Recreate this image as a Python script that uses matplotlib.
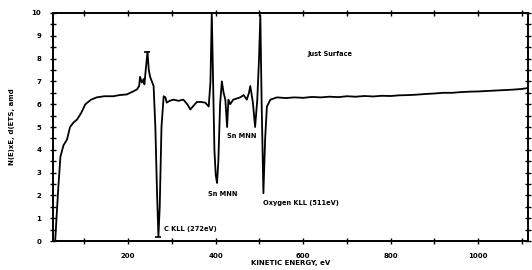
import numpy as np
import matplotlib.pyplot as plt
from matplotlib.ticker import MultipleLocator

# Spektr Auger: kineticheskaya energiya (eV) i intensivnost' (otn. ed.)
energy = [33, 36, 40, 45, 52, 60, 67, 75, 83, 92, 102, 115, 128, 145, 166, 180,
          197, 210, 220, 225, 227, 231, 235, 237, 240, 244, 247, 250, 254, 258,
          262, 266, 269, 272, 276, 281, 285, 288, 295, 303, 315, 326, 335, 342,
          350, 357, 366, 376, 384, 388, 391, 394, 397, 400, 403, 406, 410, 414,
          418, 422, 426, 429, 433, 440, 448, 456, 464, 471, 476, 479, 485, 490,
          495, 499, 502, 505, 509, 513, 517, 525, 540, 560, 580, 600, 620, 640,
          660, 680, 700, 720, 740, 760, 780, 800, 820, 840, 860, 880, 900, 920,
          940, 960, 980, 1000, 1020, 1040, 1060, 1080, 1100, 1110]
intensity = [0.0, 1.0, 2.3, 3.7, 4.2, 4.45, 5.0, 5.2, 5.33, 5.6, 6.0, 6.2, 6.3,
             6.35, 6.35, 6.4, 6.43, 6.55, 6.65, 6.8, 7.2, 6.95, 7.1, 6.87, 7.5,
             8.3, 7.5, 7.2, 7.0, 6.8, 5.0, 2.0, 0.2, 1.5, 5.0, 6.35, 6.3, 6.07,
             6.15, 6.2, 6.15, 6.2, 6.0, 5.77, 5.95, 6.1, 6.1, 6.07, 5.9, 7.0,
             10.0, 7.0, 4.0, 2.9, 2.55, 3.5, 6.0, 7.0, 6.5, 6.2, 5.0, 6.2, 6.0,
             6.2, 6.25, 6.3, 6.4, 6.2, 6.5, 6.8, 6.07, 5.0, 6.2, 8.0, 9.9, 6.0,
             2.1, 4.5, 5.9, 6.2, 6.3, 6.27, 6.3, 6.28, 6.32, 6.3, 6.33, 6.31,
             6.35, 6.33, 6.36, 6.34, 6.37, 6.36, 6.39, 6.4, 6.42, 6.45, 6.47,
             6.5, 6.5, 6.53, 6.55, 6.56, 6.58, 6.6, 6.62, 6.64, 6.67, 6.7]

labels = ["Just Surface", "C KLL (272eV)", "Sn MNN", "Sn MNN", "Oxygen KLL (511eV)"]
label_x = [610, 282, 382, 426, 508]
label_y = [8.2, 0.55, 2.05, 4.6, 1.65]

fig = plt.figure(figsize=(5.32, 2.70), dpi=100)
ax = fig.add_axes([0.0996, 0.107, 0.893, 0.845])

ax.plot(energy, intensity, color="black", linewidth=1.3)
# маленькие засечки на пике и провале углерода
ipk = intensity.index(8.3)
idp = intensity.index(0.2)
ax.plot([energy[ipk], energy[idp]], [intensity[ipk], intensity[idp]],
        linestyle="none", marker="_", markersize=5, color="black", mew=1.2)

for t, x, y in zip(labels, label_x, label_y):
    ax.text(x, y, t, fontsize=4.8, fontweight="bold", ha="left", va="center")

ax.set_xlim(28, 1114)
ax.set_ylim(0, 10)
ax.xaxis.set_major_locator(MultipleLocator(200))
ax.xaxis.set_minor_locator(MultipleLocator(100))
ax.yaxis.set_major_locator(MultipleLocator(1))
ax.yaxis.set_minor_locator(MultipleLocator(0.5))
ax.tick_params(which="both", direction="inout", length=5, width=1,
               top=True, right=True, labelsize=5, pad=6)
for lbl in ax.get_xticklabels() + ax.get_yticklabels():
    lbl.set_fontweight("bold")
for s in ax.spines.values():
    s.set_linewidth(1.4)

ax.set_xlabel("KINETIC ENERGY, eV", fontsize=5, fontweight="bold", labelpad=1)
ax.set_ylabel("N(E)xE, d(ETS, amd", fontsize=5, fontweight="bold", labelpad=12)

plt.savefig("out.png", dpi=100)
